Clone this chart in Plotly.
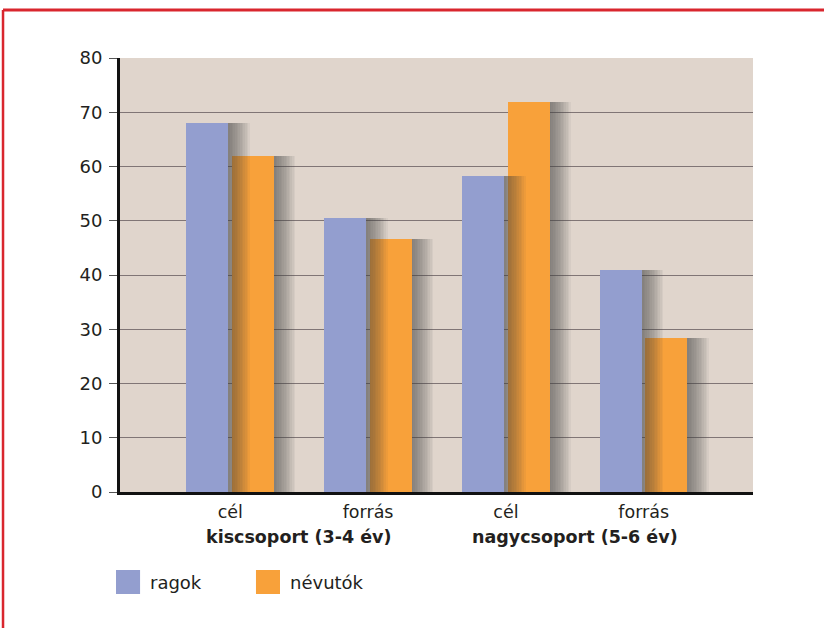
import plotly.graph_objects as go

# Data
categories = ["cél", "forrás", "cél", "forrás"]
groups = ["kiscsoport (3-4 év)", "nagycsoport (5-6 év)"]
series_names = ["ragok", "névutók"]
ragok = [68, 50.5, 58.2, 41]
nevutok = [62, 46.6, 71.9, 28.3]
y_ticks = [0, 10, 20, 30, 40, 50, 60, 70, 80]

colors = ["#939ecf", "#f8a13a"]
FONT = "DejaVu Sans"
TEXT = "#231f20"

x = list(range(len(categories)))
bar_w = 0.305
offsets = [-0.318, 0.012]
# graded shadow layers: (horizontal shift, opacity)
shadow_steps = [(0.012 * k, 0.06) for k in range(1, 14)]

fig = go.Figure()


def add_series(values, name, color, offset):
    # soft drop shadow to the right of each bar
    for dx, alpha in shadow_steps:
        fig.add_trace(go.Bar(
            x=x, y=values, width=bar_w, offset=offset + dx,
            marker=dict(color=f"rgba(60,60,60,{alpha})", line=dict(width=0)),
            showlegend=False, hoverinfo="skip",
        ))
    fig.add_trace(go.Bar(
        x=x, y=values, width=bar_w, offset=offset, name=name,
        marker=dict(color=color, line=dict(width=0)),
        showlegend=False,
    ))


add_series(nevutok, series_names[1], colors[1], offsets[1])
add_series(ragok, series_names[0], colors[0], offsets[0])

fig.update_layout(
    width=824, height=628,
    margin=dict(l=120, r=71, t=58, b=136),
    paper_bgcolor="white",
    plot_bgcolor="#e0d5cc",
    barmode="overlay",
    bargap=0,
    font=dict(family=FONT, size=17, color=TEXT),
    xaxis=dict(
        range=[-0.8, 3.793],
        tickmode="array", tickvals=x, ticktext=categories,
        showgrid=False, zeroline=False,
        showline=True, linecolor="#111111", linewidth=2.5,
        ticks="", tickfont=dict(family=FONT, size=17.5, color=TEXT),
        ticklabelstandoff=2,
    ),
    yaxis=dict(
        range=[0, 80],
        tickmode="array", tickvals=y_ticks,
        showgrid=True, gridcolor="#807575", gridwidth=1.2,
        zeroline=False,
        showline=True, linecolor="#111111", linewidth=3,
        ticks="outside", ticklen=8, tickcolor="#555555", tickwidth=1,
        tickfont=dict(family=FONT, size=18, color=TEXT),
        ticklabelstandoff=3,
    ),
)

# group labels beneath the category ticks
for i, g in enumerate(groups):
    fig.add_annotation(
        x=2 * i + 0.5, xref="x", y=-0.104, yref="paper",
        text=f"<b>{g}</b>", showarrow=False,
        xanchor="center", yanchor="middle",
        font=dict(family=FONT, size=17.5, color=TEXT),
    )

# legend drawn as swatches + labels
legend_x = [-0.0063, 0.2148]
for name, color, lx in zip(series_names, colors, legend_x):
    fig.add_shape(
        type="rect", xref="paper", yref="paper",
        x0=lx, x1=lx + 0.038, y0=-0.235, y1=-0.1797,
        fillcolor=color, line=dict(width=0),
    )
    fig.add_annotation(
        x=lx + 0.0505, xref="paper", y=-0.2074, yref="paper",
        text=name, showarrow=False, xanchor="left", yanchor="middle",
        font=dict(family=FONT, size=18, color=TEXT),
    )

# red frame along top and left edges
fig.add_shape(type="line", xref="paper", yref="paper",
              x0=-0.1848, x1=1.2, y0=1.1106, y1=1.1106,
              line=dict(color="#d9262e", width=3))
fig.add_shape(type="line", xref="paper", yref="paper",
              x0=-0.1848, x1=-0.1848, y0=1.1106, y1=-0.4,
              line=dict(color="#d9262e", width=2.5))

fig.write_html("out.html")
